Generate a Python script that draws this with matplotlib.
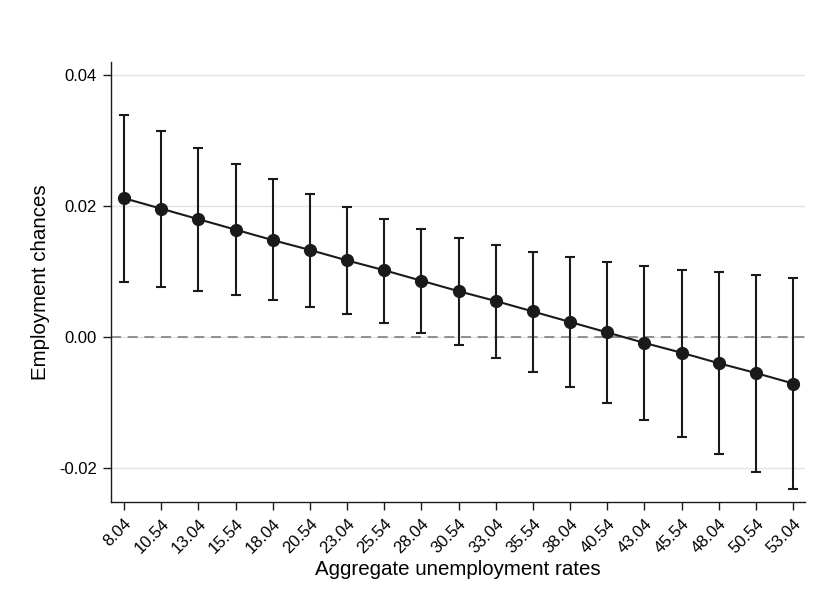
import matplotlib
matplotlib.use("Agg")
import matplotlib.pyplot as plt
import numpy as np

plt.rcParams["font.family"] = ["Liberation Sans", "DejaVu Sans"]

# 失業率カテゴリとマージン推定値
rates = ["8.04", "10.54", "13.04", "15.54", "18.04", "20.54", "23.04",
         "25.54", "28.04", "30.54", "33.04", "35.54", "38.04", "40.54",
         "43.04", "45.54", "48.04", "50.54", "53.04"]
margins = [0.0212, 0.0196, 0.0180, 0.0164, 0.0148, 0.0133, 0.0117,
           0.0102, 0.0086, 0.0070, 0.0055, 0.0039, 0.0023, 0.0007,
           -0.0009, -0.0024, -0.0040, -0.0055, -0.0071]
ci_upper = [0.0339, 0.0314, 0.0288, 0.0264, 0.0241, 0.0219, 0.0199,
            0.0181, 0.0165, 0.0151, 0.0140, 0.0130, 0.0122, 0.0115,
            0.0109, 0.0103, 0.0099, 0.0094, 0.0090]
ci_lower = [0.0084, 0.0077, 0.0071, 0.0064, 0.0056, 0.0046, 0.0035,
            0.0021, 0.0006, -0.0012, -0.0032, -0.0054, -0.0077, -0.0101,
            -0.0126, -0.0152, -0.0178, -0.0206, -0.0232]
y_ticks = [-0.02, 0.0, 0.02, 0.04]
y_tick_labels = ["-0.02", "0.00", "0.02", "0.04"]

LINE_COLOR = "#1a1a1a"
GRID_COLOR = "#e3e3e3"

figure = plt.figure(figsize=(8.15, 6.05), dpi=100)
ax = figure.add_axes([0.1362, 0.1702, 0.8515, 0.7273])

x = np.arange(len(rates))
margins = np.array(margins)
yerr = [margins - np.array(ci_lower), np.array(ci_upper) - margins]

ax.axhline(0.0, color="#7f7f7f", linewidth=1.2, linestyle=(0, (6, 4)),
           zorder=1)
ax.errorbar(x, margins, yerr=yerr, fmt="none", ecolor=LINE_COLOR,
            elinewidth=1.5, capsize=3.5, capthick=1.5, zorder=2)
ax.plot(x, margins, color=LINE_COLOR, linewidth=1.5, marker="o",
        markersize=8.5, zorder=3)

ax.set_xlim(-0.35, 18.32)
ax.set_ylim(-0.0252, 0.042)
ax.set_xticks(x)
ax.set_xticklabels(rates, rotation=45, ha="right", rotation_mode="anchor")
ax.set_yticks(y_ticks)
ax.set_yticklabels(y_tick_labels)
ax.tick_params(axis="both", labelsize=12, length=6, width=1.0,
               color=LINE_COLOR, direction="out")
ax.tick_params(axis="x", pad=4)
ax.tick_params(axis="y", pad=4)
ax.grid(axis="y", color=GRID_COLOR, linewidth=1.0)
ax.set_axisbelow(True)

for side in ("top", "right"):
    ax.spines[side].set_visible(False)
for side in ("left", "bottom"):
    ax.spines[side].set_color(LINE_COLOR)
    ax.spines[side].set_linewidth(1.0)

ax.set_xlabel("Aggregate unemployment rates", fontsize=14.8, labelpad=3)
ax.set_ylabel("Employment chances", fontsize=14.8, labelpad=7)

figure.savefig("out.png", dpi=100)
plt.close(figure)
